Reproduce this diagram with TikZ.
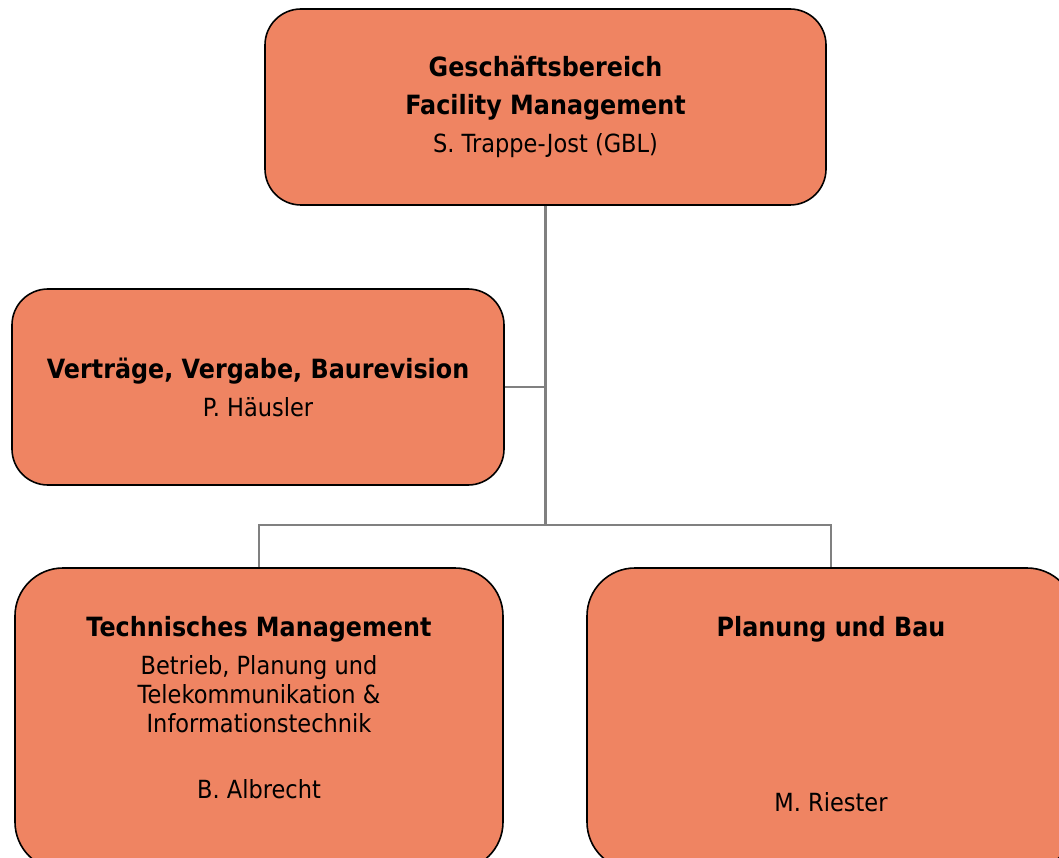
\documentclass[tikz,border=0pt]{standalone}
\usepackage{fontspec}
\setmainfont[FakeStretch=0.9]{DejaVu Sans}
\usepackage{xcolor}
\definecolor{boxfill}{RGB}{239,132,98}
\definecolor{linegray}{RGB}{128,128,128}
\newcommand{\hd}[1]{{\fontsize{26.5}{29}\selectfont\bfseries #1}}
\tikzset{
	unitbox/.style={draw=black, line width=1.6pt, fill=boxfill, rounded corners=36pt, inner sep=0pt, align=center},
	lowbox/.style={unitbox, rounded corners=48pt, minimum width=488pt, minimum height=302pt},
	conn/.style={draw=linegray, line width=2.5pt},
	label/.style={align=center, inner sep=0pt}
}

\begin{document}
\begin{tikzpicture}[x=1pt, y=-1pt, font=\fontsize{25}{29}\selectfont]
	\useasboundingbox (0,0) rectangle (1059,858);

	% boxes
	\node [unitbox, minimum width=561pt, minimum height=196pt] (gb) at (545.5,107)
		{\hd{Geschäftsbereich}\\[9pt] \hd{Facility Management}\\[9pt] S. Trappe-Jost (GBL)};
	\node [unitbox, minimum width=492pt, minimum height=196pt] (vvb) at (258,387)
		{\hd{Verträge, Vergabe, Baurevision}\\[9pt] P. Häusler};
	\node [lowbox] (tm) at (259,719) {};
	\node [lowbox] (pb) at (831,719) {};

	% texts of the lower boxes
	\node [label] (tmhead) at (259,629) {\hd{Technisches Management}};
	\node [label] (tmsub) at (259,694) {Betrieb, Planung und\\ Telekommunikation \&\\ Informationstechnik};
	\node [label] (tmname) at (259,789) {B. Albrecht};
	\node [label] (pbhead) at (831,629) {\hd{Planung und Bau}};
	\node [label] (pbname) at (831,802) {M. Riester};

	% connectors
	\coordinate (junc) at (545.5,525);
	\draw [conn] (gb.south) -- (junc);
	\draw [conn] (vvb.east) -- (vvb.east -| gb.south);
	\draw [conn] (tm.north) |- (junc) -| (pb.north);
\end{tikzpicture}
\end{document}
